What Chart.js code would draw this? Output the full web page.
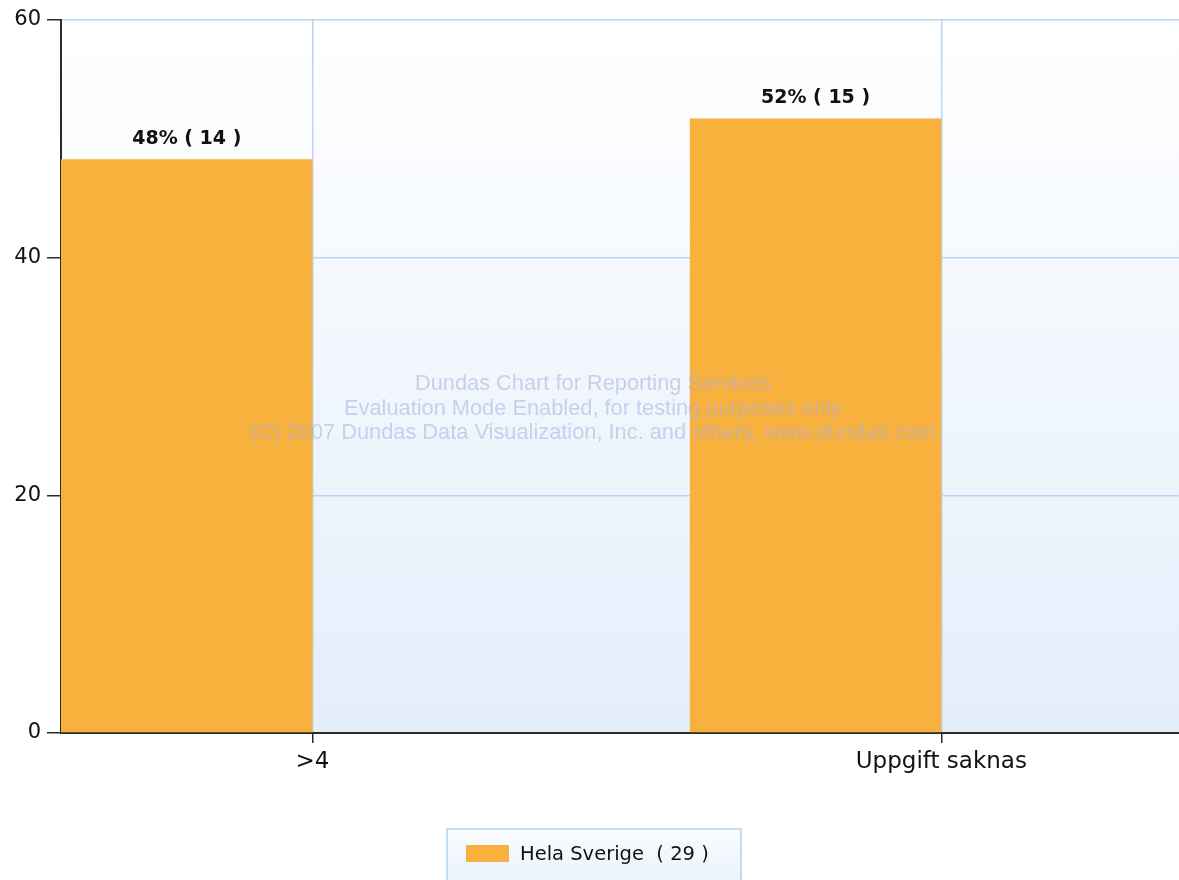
<!DOCTYPE html>
<html>
<head>
<meta charset="utf-8">
<script src="https://cdn.jsdelivr.net/npm/chart.js@4/dist/chart.umd.min.js"></script>
<style>
  html, body { margin: 0; padding: 0; background: #fff; }
  #wrap { position: relative; width: 1179px; height: 880px; }
</style>
</head>
<body>
<div id="wrap"><canvas id="chart"></canvas></div>
<script>
// --- DATA ---
const categories = ['>4', 'Uppgift saknas'];
const categoryPos = [1, 2];
const percentValues = [48.28, 51.72];
const countValues = [14, 15];
const pointLabels = ['48% ( 14 )', '52% ( 15 )'];
const seriesName = 'Hela Sverige';
const seriesTotal = 29;
const yTicks = [0, 20, 40, 60];
const watermark = [
    'Dundas Chart for Reporting Services',
    'Evaluation Mode Enabled, for testing purposes only',
    '(C) 2007 Dundas Data Visualization, Inc. and others, www.dundas.com'
];

const barColor = '#f9b13e';
const gridColor = '#bcd4f4';
const axisColor = '#2b2b2b';

// --- PLUGINS ---
const plotBackground = {
    id: 'plotBackground',
    beforeDraw(chart) {
        const { ctx, chartArea: a } = chart;
        const g = ctx.createLinearGradient(0, a.top, 0, a.bottom);
        g.addColorStop(0, '#ffffff');
        g.addColorStop(1, '#e3eefb');
        ctx.save();
        ctx.fillStyle = g;
        ctx.fillRect(a.left, a.top, a.right - a.left, a.bottom - a.top);
        ctx.restore();
    }
};

const valueLabels = {
    id: 'valueLabels',
    afterDatasetsDraw(chart) {
        const { ctx } = chart;
        const meta = chart.getDatasetMeta(0);
        ctx.save();
        ctx.font = 'bold 19px "DejaVu Sans", Verdana, sans-serif';
        ctx.fillStyle = '#111';
        ctx.textAlign = 'center';
        ctx.textBaseline = 'bottom';
        meta.data.forEach((bar, i) => {
            ctx.fillText(pointLabels[i], bar.x, bar.y - 11);
        });
        ctx.restore();
    }
};

const watermarkText = {
    id: 'watermarkText',
    afterDraw(chart) {
        const { ctx } = chart;
        ctx.save();
        ctx.font = '21.8px "Liberation Sans", Arial, sans-serif';
        ctx.fillStyle = 'rgba(170, 175, 220, 0.55)';
        ctx.textAlign = 'center';
        ctx.textBaseline = 'middle';
        watermark.forEach((line, i) => {
            ctx.fillText(line, 593, 384 + i * 24.5);
        });
        ctx.restore();
    }
};

const boxLegend = {
    id: 'boxLegend',
    afterDraw(chart) {
        const { ctx } = chart;
        const ds = chart.data.datasets[0];
        const text = ds.label + '  ( ' + seriesTotal + ' )';
        ctx.save();
        const g = ctx.createLinearGradient(0, 829, 0, 880);
        g.addColorStop(0, '#fbfdff');
        g.addColorStop(1, '#eaf2fc');
        ctx.fillStyle = g;
        ctx.fillRect(447, 829, 294, 60);
        ctx.strokeStyle = '#b6cff2';
        ctx.lineWidth = 1.5;
        ctx.strokeRect(447, 829, 294, 60);
        ctx.fillStyle = ds.backgroundColor;
        ctx.fillRect(466, 845, 43, 17);
        ctx.font = '19.5px "DejaVu Sans", Verdana, sans-serif';
        ctx.fillStyle = '#111';
        ctx.textAlign = 'left';
        ctx.textBaseline = 'middle';
        ctx.fillText(text, 520, 855);
        ctx.restore();
    }
};

// --- CHART ---
const mainData = categoryPos.map((x, i) => ({ x: x, y: percentValues[i] }));
const emptyData = categoryPos.map(x => ({ x: x, y: null }));

new Chart(document.getElementById('chart'), {
    type: 'bar',
    data: {
        datasets: [
            { label: seriesName, data: mainData, backgroundColor: barColor,
              barPercentage: 1, categoryPercentage: 0.8 },
            { label: '', data: emptyData, backgroundColor: barColor,
              barPercentage: 1, categoryPercentage: 0.8 }
        ]
    },
    options: {
        responsive: true,
        maintainAspectRatio: false,
        animation: false,
        layout: { padding: { top: 20, right: 0, left: 0, bottom: 0 } },
        plugins: {
            legend: { display: false },
            tooltip: { enabled: false }
        },
        scales: {
            x: {
                type: 'linear',
                offset: false,
                min: 0.6,
                max: 2.378,
                afterBuildTicks: scale => { scale.ticks = categoryPos.map(v => ({ value: v })); },
                afterFit: scale => { scale.height = 147; },
                grid: { offset: false, color: gridColor, lineWidth: 1.5, tickColor: axisColor, tickLength: 10, drawOnChartArea: true },
                border: { color: axisColor, width: 2 },
                ticks: {
                    autoSkip: false,
                    maxRotation: 0,
                    padding: 5,
                    color: '#111',
                    font: { family: '"DejaVu Sans", Verdana, sans-serif', size: 23 },
                    callback: v => categories[categoryPos.indexOf(v)]
                }
            },
            y: {
                min: 0,
                max: 60,
                afterBuildTicks: scale => { scale.ticks = yTicks.map(v => ({ value: v })); },
                afterFit: scale => { scale.width = 61; },
                grid: { color: ctx => ctx.tick && ctx.tick.value === 0 ? 'rgba(0,0,0,0)' : gridColor,
                        lineWidth: 1.5, tickColor: axisColor, tickLength: 14 },
                border: { color: axisColor, width: 2 },
                ticks: {
                    padding: 6,
                    color: '#111',
                    font: { family: '"DejaVu Sans", Verdana, sans-serif', size: 21 }
                }
            }
        }
    },
    plugins: [plotBackground, valueLabels, watermarkText, boxLegend]
});
</script>
</body>
</html>
